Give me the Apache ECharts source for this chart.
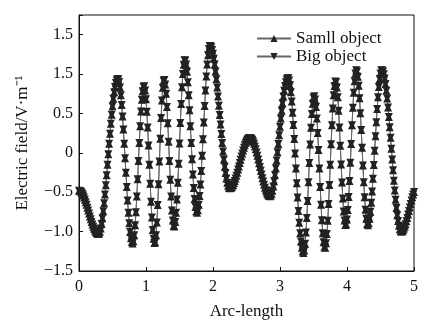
<!DOCTYPE html>
<html>
<head>
<meta charset="utf-8">
<script src="https://cdn.jsdelivr.net/npm/echarts@6/dist/echarts.min.js"></script>
<style>
  html, body { margin: 0; padding: 0; background: #fff; }
  #chart { width: 421px; height: 325px; }
</style>
</head>
<body>
<div id="chart"></div>
<script>
// sampled along the arc, one value every 0.0125
const arcStep = 0.0125

const smallObject = [
  -0.480, -0.483, -0.490, -0.502, -0.519, -0.541, -0.566, -0.594, -0.626, -0.660, -0.696, -0.733,
  -0.770, -0.807, -0.843, -0.877, -0.909, -0.939, -0.964, -0.987, -1.005, -1.018, -1.026, -1.030,
  -1.024, -1.001, -0.960, -0.902, -0.829, -0.741, -0.641, -0.530, -0.410, -0.283, -0.152, -0.018,
  0.115, 0.244, 0.369, 0.485, 0.592, 0.688, 0.770, 0.836, 0.888, 0.922, 0.939,
  0.934, 0.898, 0.829, 0.732, 0.607, 0.460, 0.295, 0.117, -0.068, -0.254, -0.435, -0.606,
  -0.761, -0.895, -1.004, -1.084, -1.133, -1.150,
  -1.123, -1.045, -0.919, -0.753, -0.554, -0.334, -0.104, 0.124, 0.337, 0.524, 0.675, 0.782, 0.840,
  0.845, 0.792, 0.681, 0.521, 0.321, 0.093, -0.150, -0.393, -0.621, -0.821, -0.981, -1.092, -1.145,
  -1.135, -1.047, -0.885, -0.663, -0.398, -0.110, 0.178, 0.443, 0.665, 0.827, 0.915,
  0.925, 0.868, 0.751, 0.583, 0.375, 0.141, -0.103, -0.340, -0.555, -0.732, -0.859, -0.928,
  -0.935, -0.878, -0.761, -0.592, -0.380, -0.138, 0.120, 0.378, 0.620, 0.832, 1.001, 1.118, 1.175,
  1.172, 1.121, 1.028, 0.896, 0.731, 0.542, 0.337, 0.125, -0.082, -0.275, -0.445, -0.585, -0.686, -0.745,
  -0.759, -0.729, -0.658, -0.548, -0.403, -0.230, -0.038, 0.172, 0.385, 0.595, 0.793, 0.970,
  1.121, 1.239, 1.318, 1.357,
  1.357, 1.340, 1.306, 1.258, 1.196, 1.120, 1.033, 0.935, 0.829, 0.716, 0.599, 0.479,
  0.359, 0.240, 0.125, 0.016, -0.085, -0.176, -0.257, -0.326, -0.379, -0.418, -0.442,
  -0.450, -0.447, -0.439, -0.426, -0.407, -0.384, -0.356, -0.325, -0.290, -0.252, -0.213, -0.172,
  -0.130, -0.088, -0.047, -0.008, 0.030, 0.065, 0.096, 0.124, 0.147, 0.166, 0.179, 0.187, 0.190,
  0.187, 0.177, 0.162, 0.140, 0.114, 0.082, 0.045, 0.005, -0.038, -0.084, -0.132, -0.180,
  -0.228, -0.276, -0.322, -0.365, -0.405, -0.442, -0.474, -0.500, -0.522, -0.537, -0.547, -0.550,
  -0.542, -0.518, -0.480, -0.427, -0.360, -0.282, -0.194, -0.097, 0.006, 0.113, 0.222,
  0.330, 0.436, 0.536, 0.630, 0.715, 0.788, 0.850, 0.897, 0.930, 0.947,
  0.947, 0.918, 0.858, 0.768, 0.651, 0.510, 0.352, 0.176, -0.009, -0.198, -0.386, -0.568,
  -0.737, -0.889, -1.021, -1.127, -1.206, -1.254,
  -1.270, -1.240, -1.153, -1.012, -0.828, -0.610, -0.373, -0.129, 0.106, 0.318, 0.494, 0.624, 0.701,
  0.719, 0.678, 0.583, 0.437, 0.251, 0.035, -0.198, -0.433, -0.658, -0.857, -1.020, -1.136, -1.200,
  -1.205, -1.148, -1.031, -0.862, -0.650, -0.408, -0.150, 0.108, 0.350, 0.562, 0.731, 0.848, 0.905,
  0.899, 0.831, 0.706, 0.533, 0.323, 0.091, -0.148, -0.377, -0.581, -0.745, -0.859, -0.915,
  -0.909, -0.845, -0.726, -0.560, -0.356, -0.127, 0.113, 0.351, 0.571, 0.762, 0.910, 1.008, 1.049,
  1.033, 0.966, 0.851, 0.694, 0.504, 0.290, 0.065, -0.160, -0.374, -0.564, -0.721, -0.836, -0.903,
  -0.919, -0.895, -0.838, -0.749, -0.632, -0.490, -0.329, -0.154, 0.028, 0.212, 0.390, 0.558,
  0.707, 0.835, 0.936, 1.006, 1.044,
  1.049, 1.032, 0.997, 0.943, 0.873, 0.788, 0.689, 0.577, 0.455, 0.326, 0.191, 0.053,
  -0.086, -0.222, -0.355, -0.479, -0.595, -0.700, -0.791, -0.866, -0.927, -0.970, -0.994,
  -1.000, -0.995, -0.982, -0.962, -0.936, -0.905, -0.868, -0.827, -0.784, -0.738, -0.693, -0.648,
  -0.605, -0.564, -0.528, -0.497
]
// the two curves lie on top of each other in the figure
const bigObject = smallObject.slice()

const seriesNames = ['Samll object', 'Big object']
const xTickLabels = ['0', '1', '2', '3', '4', '5']
const yTickValues = [-1.5, -1, -0.5, 0, 0.5, 1, 1.5]
const yTickLabels = ['\u22121.5', '\u22121.0', '\u22120.5', '0', '0.5', '1.5', '1.5']

const serif = 'Liberation Serif, Times New Roman, serif'
const toPairs = (vals) => vals.map((v, i) => [+(i * arcStep).toFixed(4), v])

const lineSeries = (name, vals, rotate) => ({
  name,
  type: 'line',
  data: toPairs(vals),
  symbol: 'triangle',
  symbolSize: 8,
  symbolRotate: rotate,
  showAllSymbol: true,
  lineStyle: { color: '#666', width: 1 },
  itemStyle: { color: '#222' },
  emphasis: { disabled: true },
})

const chart = echarts.init(document.getElementById('chart'), null, { width: 421, height: 325 })
chart.setOption({
  animation: false,
  backgroundColor: '#fff',
  grid: { left: 79, right: 6, top: 15, bottom: 46, show: true, borderColor: '#111', borderWidth: 1 },
  legend: {
    orient: 'vertical',
    left: 251,
    top: 25,
    itemWidth: 34,
    itemHeight: 9,
    itemGap: 1,
    textStyle: { fontFamily: serif, fontSize: 17, color: '#111' },
    data: seriesNames,
  },
  xAxis: {
    type: 'value',
    min: 0,
    max: 5,
    interval: 1,
    name: 'Arc-length',
    nameLocation: 'middle',
    nameGap: 32,
    nameTextStyle: { fontFamily: serif, fontSize: 17, color: '#111' },
    axisLine: { onZero: false, lineStyle: { color: '#111' } },
    axisTick: { inside: true, length: 4, lineStyle: { color: '#111' } },
    axisLabel: { fontFamily: serif, fontSize: 16, color: '#111', margin: 8, formatter: (v) => xTickLabels[v] ?? '' },
    splitLine: { show: false },
  },
  yAxis: {
    type: 'value',
    min: -1.5,
    max: 1.75,
    interval: 0.5,
    name: 'Electric field/V\u00b7m\u207b\u00b9',
    nameLocation: 'middle',
    nameGap: 48,
    nameTextStyle: { fontFamily: serif, fontSize: 17, color: '#111' },
    axisLine: { onZero: false, lineStyle: { color: '#111' } },
    axisTick: { inside: true, length: 4, lineStyle: { color: '#111' } },
    axisLabel: {
      fontFamily: serif, fontSize: 16, color: '#111', margin: 6,
      formatter: (v) => {
        const k = yTickValues.findIndex((t) => Math.abs(t - v) < 1e-6)
        return k < 0 ? '' : yTickLabels[k]
      },
    },
    splitLine: { show: false },
  },
  series: [
    lineSeries(seriesNames[0], smallObject, 0),
    lineSeries(seriesNames[1], bigObject, 180),
  ],
})
</script>
</body>
</html>
